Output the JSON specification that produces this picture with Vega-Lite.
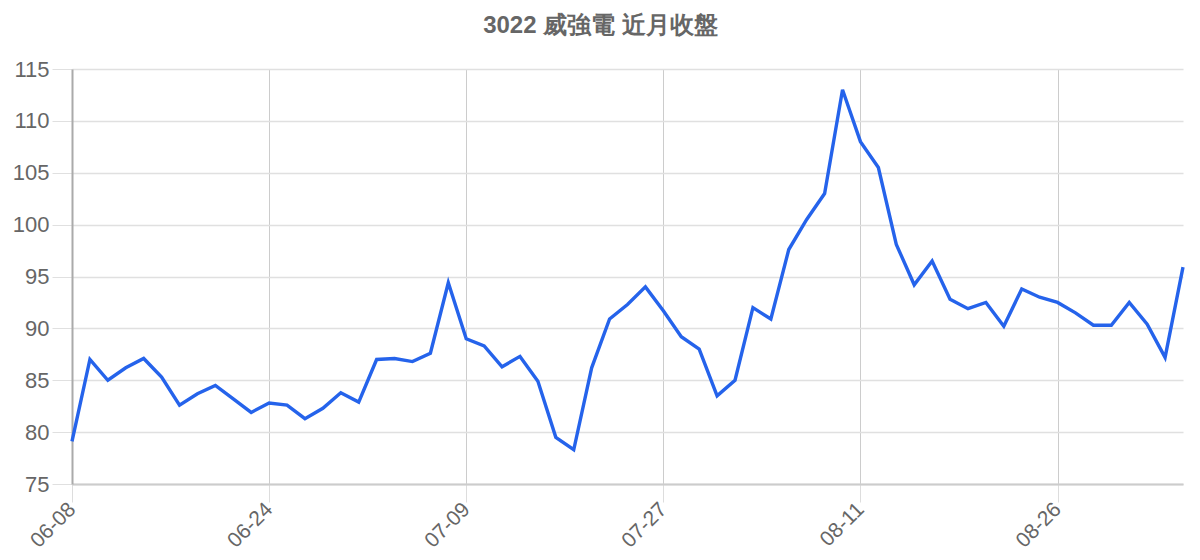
{
  "$schema": "https://vega.github.io/schema/vega-lite/v6.json",
  "autosize": {"type": "none"},
  "width": 1111,
  "height": 415,
  "padding": {"left": 72, "top": 69, "right": 17, "bottom": 76},
  "background": "white",
  "title": {
    "text": "3022 威強電 近月收盤",
    "font": "Liberation Sans",
    "fontSize": 24,
    "fontWeight": "bold",
    "color": "#666666",
    "anchor": "middle",
    "dx": -27,
    "offset": 20
  },
  "config": {"view": {"stroke": null}},
  "data": {
    "values": [
      {"date": "06-08", "close": 79.1},
      {"date": "06-09", "close": 87.0},
      {"date": "06-10", "close": 85.0},
      {"date": "06-11", "close": 86.2},
      {"date": "06-15", "close": 87.1},
      {"date": "06-16", "close": 85.3},
      {"date": "06-17", "close": 82.6},
      {"date": "06-18", "close": 83.7},
      {"date": "06-21", "close": 84.5},
      {"date": "06-22", "close": 83.2},
      {"date": "06-23", "close": 81.9},
      {"date": "06-24", "close": 82.8},
      {"date": "06-25", "close": 82.6},
      {"date": "06-28", "close": 81.3},
      {"date": "06-29", "close": 82.3},
      {"date": "06-30", "close": 83.8},
      {"date": "07-01", "close": 82.9},
      {"date": "07-02", "close": 87.0},
      {"date": "07-05", "close": 87.1},
      {"date": "07-06", "close": 86.8},
      {"date": "07-07", "close": 87.6},
      {"date": "07-08", "close": 94.4},
      {"date": "07-09", "close": 89.0},
      {"date": "07-12", "close": 88.3},
      {"date": "07-13", "close": 86.3},
      {"date": "07-14", "close": 87.3},
      {"date": "07-15", "close": 84.9},
      {"date": "07-16", "close": 79.5},
      {"date": "07-19", "close": 78.3},
      {"date": "07-20", "close": 86.2},
      {"date": "07-21", "close": 90.9},
      {"date": "07-22", "close": 92.3},
      {"date": "07-23", "close": 94.0},
      {"date": "07-27", "close": 91.7},
      {"date": "07-28", "close": 89.2},
      {"date": "07-29", "close": 88.0},
      {"date": "07-30", "close": 83.5},
      {"date": "08-02", "close": 85.0},
      {"date": "08-03", "close": 92.0},
      {"date": "08-04", "close": 90.9},
      {"date": "08-05", "close": 97.6},
      {"date": "08-06", "close": 100.5},
      {"date": "08-09", "close": 103.0},
      {"date": "08-10", "close": 113.0},
      {"date": "08-11", "close": 108.0},
      {"date": "08-12", "close": 105.5},
      {"date": "08-13", "close": 98.1},
      {"date": "08-16", "close": 94.2},
      {"date": "08-17", "close": 96.5},
      {"date": "08-18", "close": 92.8},
      {"date": "08-19", "close": 91.9},
      {"date": "08-20", "close": 92.5},
      {"date": "08-23", "close": 90.2},
      {"date": "08-24", "close": 93.8},
      {"date": "08-25", "close": 93.0},
      {"date": "08-26", "close": 92.5},
      {"date": "08-27", "close": 91.5},
      {"date": "08-30", "close": 90.3},
      {"date": "08-31", "close": 90.3},
      {"date": "09-01", "close": 92.5},
      {"date": "09-02", "close": 90.4},
      {"date": "09-03", "close": 87.2},
      {"date": "09-06", "close": 95.9}
    ]
  },
  "mark": {"type": "line", "color": "#2563eb", "strokeWidth": 3.4, "strokeJoin": "miter"},
  "encoding": {
    "x": {
      "field": "date",
      "type": "ordinal",
      "sort": null,
      "title": null,
      "scale": {"type": "point", "padding": 0},
      "axis": {
        "values": ["06-08", "06-24", "07-09", "07-27", "08-11", "08-26"],
        "labelAngle": -45,
        "labelAlign": "right",
        "labelBaseline": "middle",
        "labelFont": "Liberation Sans",
        "labelFontSize": 21,
        "labelColor": "#666666",
        "labelPadding": 4,
        "grid": true,
        "gridColor": "#cccccc",
        "gridWidth": 1,
        "tickColor": "#dddddd",
        "tickSize": 18,
        "domainColor": "#cccccc",
        "domainWidth": 2
      }
    },
    "y": {
      "field": "close",
      "type": "quantitative",
      "title": null,
      "scale": {"domain": [75, 115], "zero": false, "nice": false},
      "axis": {
        "values": [75, 80, 85, 90, 95, 100, 105, 110, 115],
        "labelFont": "Liberation Sans",
        "labelFontSize": 22,
        "labelColor": "#666666",
        "labelPadding": 3,
        "grid": true,
        "gridColor": "#e0e0e0",
        "gridWidth": 1.5,
        "tickColor": "#e0e0e0",
        "tickSize": 20,
        "domainColor": "#aaaaaa",
        "domainWidth": 2
      }
    }
  }
}
